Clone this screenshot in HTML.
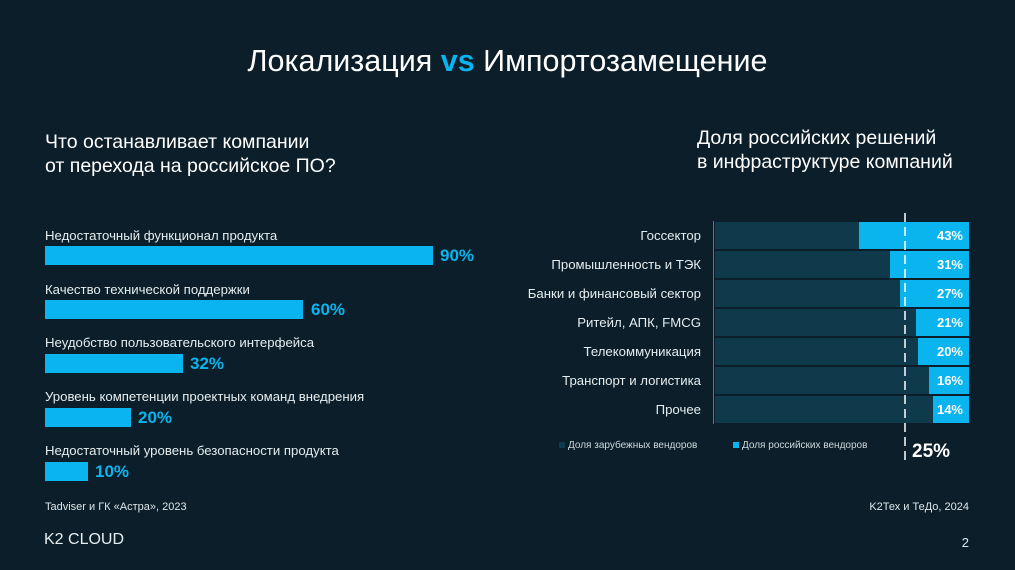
<!DOCTYPE html>
<html><head><meta charset="utf-8"><style>
body{margin:0;width:1015px;height:570px;background:#0b1e29;position:relative;overflow:hidden;font-family:"Liberation Sans","DejaVu Sans",sans-serif;color:#fff}
.a{position:absolute;white-space:nowrap}
.lb{font-size:13.2px;color:#e6edf0}
.bar{position:absolute;background:#0ab4ee;height:19px;left:45px}
.pc{position:absolute;color:#0ab4ee;font-weight:bold;font-size:17px}
.rl{position:absolute;right:314px;font-size:13.2px;color:#e6edf0;text-align:right}
.db{position:absolute;left:715px;width:254px;height:27px;background:#0e3a4c}
.cb{position:absolute;height:27px;background:#0ab4ee}
.rp{position:absolute;right:52px;font-size:13px;font-weight:bold;color:#fff}
</style></head><body>
<div class="a" style="left:0;width:1015px;text-align:center;top:44px;font-size:30.5px">Локализация <b style="color:#0ab4ee">vs</b> Импортозамещение</div>
<div class="a" style="left:45px;top:130px;font-size:19.5px;line-height:24px">Что останавливает компании<br>от перехода на российское ПО?</div>
<div class="a" style="left:697px;top:126px;font-size:19.5px;line-height:24px">Доля российских решений<br>в инфраструктуре компаний</div>

<div class="a lb" style="left:45px;top:228px">Недостаточный функционал продукта</div>
<div class="bar" style="top:246px;width:388px"></div><div class="pc" style="left:440px;top:246px">90%</div>
<div class="a lb" style="left:45px;top:282px">Качество технической поддержки</div>
<div class="bar" style="top:300px;width:258px"></div><div class="pc" style="left:311px;top:300px">60%</div>
<div class="a lb" style="left:45px;top:335px">Неудобство пользовательского интерфейса</div>
<div class="bar" style="top:354px;width:138px"></div><div class="pc" style="left:190px;top:354px">32%</div>
<div class="a lb" style="left:45px;top:389px">Уровень компетенции проектных команд внедрения</div>
<div class="bar" style="top:408px;width:86px"></div><div class="pc" style="left:138px;top:408px">20%</div>
<div class="a lb" style="left:45px;top:443px">Недостаточный уровень безопасности продукта</div>
<div class="bar" style="top:462px;width:43px"></div><div class="pc" style="left:95px;top:462px">10%</div>

<div class="a" style="left:45px;top:501px;font-size:11px;color:#dfe6ea">Tadviser и ГК «Астра», 2023</div>
<div class="a" style="left:44px;top:531px;font-size:16px;color:#e6edf0">K2 CLOUD</div>
<div class="a" style="right:46px;top:535px;font-size:13px;color:#dfe6ea">2</div>
<div class="a" style="right:46px;top:501px;font-size:11px;color:#dfe6ea">K2Тех и ТеДо, 2024</div>

<div class="a" style="left:713px;top:221px;width:1px;height:203px;background:#5a7a88"></div>
<div class="db" style="top:222px"></div><div class="cb" style="top:222px;left:859px;width:110px"></div><div class="rl" style="top:228px">Госсектор</div><div class="rp" style="top:228px">43%</div>
<div class="db" style="top:251px"></div><div class="cb" style="top:251px;left:890px;width:79px"></div><div class="rl" style="top:257px">Промышленность и ТЭК</div><div class="rp" style="top:257px">31%</div>
<div class="db" style="top:280px"></div><div class="cb" style="top:280px;left:900px;width:69px"></div><div class="rl" style="top:286px">Банки и финансовый сектор</div><div class="rp" style="top:286px">27%</div>
<div class="db" style="top:309px"></div><div class="cb" style="top:309px;left:916px;width:53px"></div><div class="rl" style="top:315px">Ритейл, АПК, FMCG</div><div class="rp" style="top:315px">21%</div>
<div class="db" style="top:338px"></div><div class="cb" style="top:338px;left:918px;width:51px"></div><div class="rl" style="top:344px">Телекоммуникация</div><div class="rp" style="top:344px">20%</div>
<div class="db" style="top:367px"></div><div class="cb" style="top:367px;left:929px;width:40px"></div><div class="rl" style="top:373px">Транспорт и логистика</div><div class="rp" style="top:373px">16%</div>
<div class="db" style="top:396px"></div><div class="cb" style="top:396px;left:933px;width:36px"></div><div class="rl" style="top:402px">Прочее</div><div class="rp" style="top:402px">14%</div>

<svg class="a" style="left:903px;top:213px" width="4" height="252"><line x1="2" y1="0" x2="2" y2="252" stroke="#fff" stroke-width="1.5" stroke-dasharray="9,5"/></svg>
<div class="a" style="left:559px;top:440px;font-size:10px;color:#cfd8dc"><span style="display:inline-block;width:6px;height:6px;background:#0e3a4c;margin-right:3px"></span>Доля зарубежных вендоров</div>
<div class="a" style="left:733px;top:440px;font-size:10px;color:#cfd8dc"><span style="display:inline-block;width:6px;height:6px;background:#0ab4ee;margin-right:3px"></span>Доля российских вендоров</div>
<div class="a" style="left:912px;top:441px;font-size:19px;font-weight:bold">25%</div>
</body></html>
